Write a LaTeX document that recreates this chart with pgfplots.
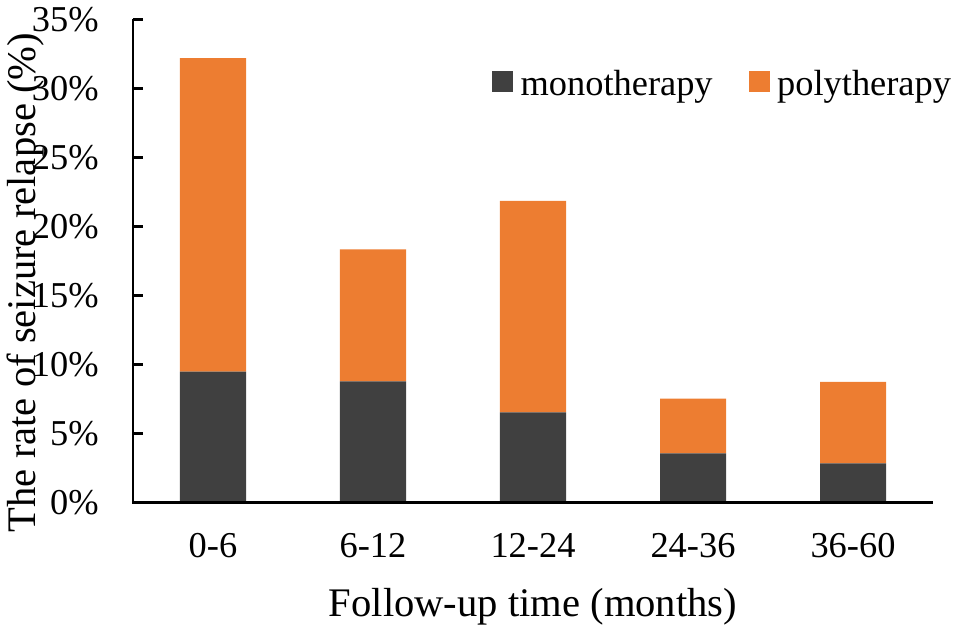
\documentclass[border=0pt]{standalone}
\usepackage{fontspec}
\setmainfont{Liberation Serif}
\usepackage{pgfplots}
\pgfplotsset{compat=1.18}
\definecolor{mono}{HTML}{404040}
\definecolor{poly}{HTML}{ED7D31}
\begin{document}
\begin{tikzpicture}
\begin{axis}[
 scale only axis, width=400pt, height=241.5pt,
 ybar stacked, bar width=33pt,
 xmin=-0.5, xmax=4.5, ymin=0, ymax=35,
 xtick={0,1,2,3,4}, xticklabels={0-6,6-12,12-24,24-36,36-60},
 ytick={0,5,10,15,20,25,30,35},
 yticklabels={0\%,5\%,10\%,15\%,20\%,25\%,30\%,35\%},
 axis line style={draw=none},
 tick align=inside, major tick length=5pt,
 xtick pos=left, ytick pos=left,
 xtick style={draw=none},
 ytick style={line width=1.2pt, black},
 ticklabel style={font=\fontsize{18.2}{21}\selectfont},
 xticklabel style={anchor=base, yshift=-27.8pt, inner sep=0pt},
 yticklabel style={anchor=east, xshift=-17pt, inner sep=0pt},
 xlabel={Follow-up time (months)},
 xlabel style={font=\fontsize{20.3}{24}\selectfont, at={(axis description cs:0.5,0)}, anchor=base, yshift=-57.2pt, inner sep=0pt},
 ylabel={The rate of seizure relapse (\%)},
 ylabel style={font=\fontsize{20.3}{24}\selectfont, at={(axis description cs:-0.1225,0.455)}, anchor=base, inner sep=0pt},
 legend columns=2,
 legend style={draw=none, fill=none, at={(axis description cs:0.4484,0.836)}, anchor=south west, inner sep=0pt,
   font=\fontsize{18.2}{21}\selectfont, nodes={inner sep=0pt},
   /tikz/every odd column/.append style={column sep=3.65pt},
   /tikz/every even column/.append style={column sep=18pt}},
 legend image code/.code={\fill[#1] (0pt,-4.24pt) rectangle (10.6pt,6.4pt);},
 after end axis/.code={\draw[line width=1.2pt, black] (rel axis cs:0,1) -- (rel axis cs:0,0) -- (rel axis cs:1,0);},
]
\addplot[fill=mono, draw=none] coordinates {(0,9.47) (1,8.77) (2,6.51) (3,3.54) (4,2.82)};
\addplot[fill=poly, draw=none] coordinates {(0,22.71) (1,9.55) (2,15.33) (3,3.98) (4,5.90)};
\legend{monotherapy,polytherapy}
\end{axis}
\pgfresetboundingbox
\path[use as bounding box] (-66.5pt,-64.35pt) rectangle (412pt,251.15pt);
\end{tikzpicture}
\end{document}
